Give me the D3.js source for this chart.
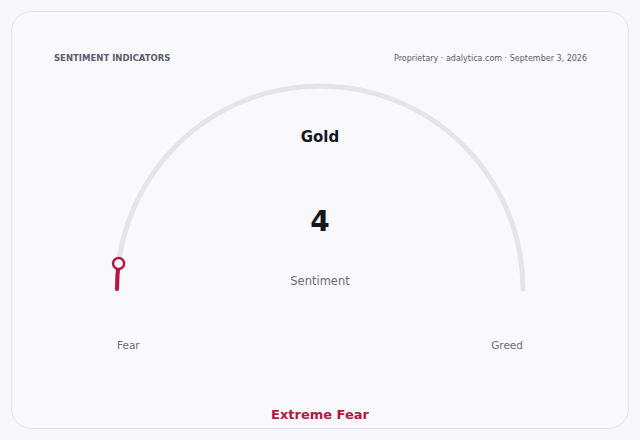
<!DOCTYPE html>
<html>
<head>
<meta charset="utf-8">
<script src="https://cdn.jsdelivr.net/npm/d3@7"></script>
<style>
  html, body { margin: 0; padding: 0; background: #f8f8fc; }
  svg { display: block; font-family: "DejaVu Sans", sans-serif; }
</style>
</head>
<body>
<div id="chart"></div>
<script>
// gauge data
const asset = "Gold";
const sentimentValue = 4;
const sentimentLabel = "Extreme Fear";
const scaleDomain = [0, 100];
const endLabels = ["Fear", "Greed"];
const headerLeft = "SENTIMENT INDICATORS";
const headerRight = "Proprietary · adalytica.com · September 3, 2026";

const width = 640, height = 440;
const accent = "#b3173f";

const svg = d3.select("#chart").append("svg")
    .attr("width", width)
    .attr("height", height)
    .attr("viewBox", `0 0 ${width} ${height}`);

// card
svg.append("rect")
    .attr("x", 11.5).attr("y", 11.5)
    .attr("width", 617).attr("height", 417)
    .attr("rx", 20)
    .attr("fill", "#f9f9fd")
    .attr("stroke", "#e2e2ec");

svg.append("text")
    .attr("x", 54).attr("y", 61)
    .attr("font-size", 8.5).attr("font-weight", "bold")
    .attr("fill", "#5b5b70")
    .text(headerLeft);

svg.append("text")
    .attr("x", 587).attr("y", 61)
    .attr("text-anchor", "end")
    .attr("font-size", 8)
    .attr("fill", "#5b5b70")
    .text(headerRight);

// gauge geometry
const cx = 320, cy = 289, r = 203;
const angle = d3.scaleLinear().domain(scaleDomain).range([Math.PI, 2 * Math.PI]);

function arcPath(a0, a1) {
    const p = d3.path();
    p.arc(cx, cy, r, a0, a1);
    return p.toString();
}

const g = svg.append("g");

g.append("path")
    .attr("d", arcPath(angle(scaleDomain[0]), angle(scaleDomain[1])))
    .attr("fill", "none")
    .attr("stroke", "#e4e4ea")
    .attr("stroke-width", 5)
    .attr("stroke-linecap", "round");

g.append("path")
    .attr("d", arcPath(angle(scaleDomain[0]), angle(sentimentValue)))
    .attr("fill", "none")
    .attr("stroke", accent)
    .attr("stroke-width", 4)
    .attr("stroke-linecap", "round");

const a = angle(sentimentValue);
g.append("circle")
    .attr("cx", cx + r * Math.cos(a))
    .attr("cy", cy + r * Math.sin(a))
    .attr("r", 5.5)
    .attr("fill", "#ffffff")
    .attr("stroke", accent)
    .attr("stroke-width", 2.5);

// center texts
svg.append("text")
    .attr("x", cx).attr("y", 142)
    .attr("text-anchor", "middle")
    .attr("font-size", 15).attr("font-weight", "bold")
    .attr("fill", "#16161c")
    .text(asset);

svg.append("text")
    .attr("x", cx).attr("y", 231)
    .attr("text-anchor", "middle")
    .attr("font-size", 28).attr("font-weight", "bold")
    .attr("fill", "#16161c")
    .text(sentimentValue);

svg.append("text")
    .attr("x", cx).attr("y", 285)
    .attr("text-anchor", "middle")
    .attr("font-size", 11.5)
    .attr("fill", "#6b6b78")
    .text("Sentiment");

// end labels
svg.selectAll("text.end")
    .data(endLabels)
    .join("text")
    .attr("class", "end")
    .attr("x", (d, i) => i === 0 ? cx - r : cx + r)
    .attr("y", 349)
    .attr("text-anchor", (d, i) => i === 0 ? "start" : "end")
    .attr("font-size", 10.5)
    .attr("fill", "#6b6b78")
    .text(d => d);

svg.append("text")
    .attr("x", cx).attr("y", 419)
    .attr("text-anchor", "middle")
    .attr("font-size", 13).attr("font-weight", "bold")
    .attr("fill", accent)
    .text(sentimentLabel);
</script>
</body>
</html>
